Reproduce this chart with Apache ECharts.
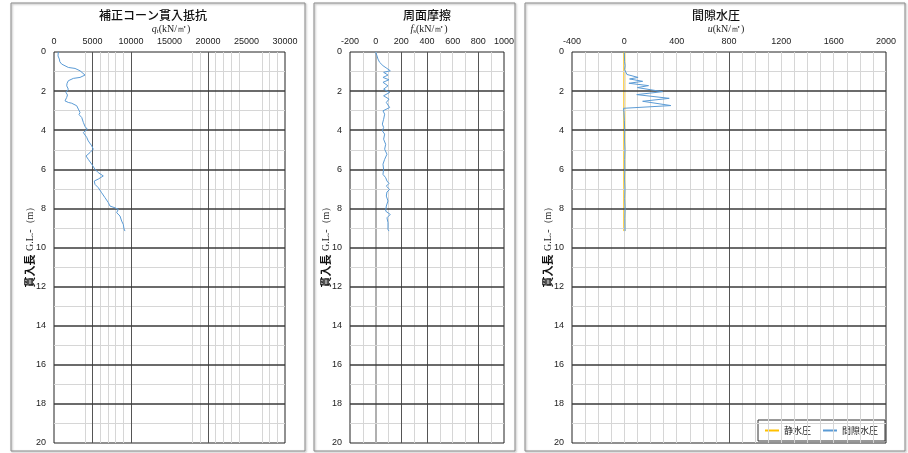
<!DOCTYPE html>
<html><head><meta charset="utf-8">
<script src="https://cdn.jsdelivr.net/npm/echarts@6/dist/echarts.min.js"></script>
<style>html,body{margin:0;padding:0;background:#fff}#c{width:908px;height:453px}</style>
</head><body><div id="c"></div>
<script>
// ---- data ----
const qtDepth = [0,0.2,0.36,0.5,0.62,0.79,0.84,0.96,1.18,1.3,1.35,1.47,1.6,1.73,1.9,2.07,2.2,2.32,2.5,2.58,2.62,2.67,2.75,2.92,3.09,3.2,3.35,3.6,3.81,3.95,4.12,4.37,4.55,4.8,4.97,5.14,5.32,5.49,5.74,6.0,6.17,6.34,6.5,6.6,6.77,6.94,7.2,7.45,7.7,7.88,7.97,8.05,8.22,8.39,8.65,8.82,9.05,9.16];
const qtValue = [560,520,690,760,1000,1860,2730,3380,4030,3380,2510,1860,1700,1650,1860,1560,1750,1650,1430,1860,2300,2510,2950,3160,3380,3250,3600,3810,4030,4320,3810,4250,4450,4900,5100,4680,4160,4450,4900,5320,5750,6400,5750,5230,5320,5750,6190,6620,7050,7270,7920,8350,8140,8570,8790,9000,9090,9220];
const fsDepth = [0,0.19,0.36,0.53,0.7,0.84,0.96,1.04,1.18,1.3,1.42,1.55,1.73,1.9,2.07,2.24,2.41,2.58,2.84,3.01,3.18,3.44,3.69,3.86,4.03,4.2,4.46,4.72,4.97,5.23,5.49,5.74,6.0,6.26,6.43,6.6,6.72,6.86,7.03,7.16,7.37,7.62,7.88,8.14,8.31,8.48,8.73,9.08,9.16];
const fsValue = [0,10,18,31,57,88,114,62,96,57,104,57,96,62,109,62,104,83,109,57,70,62,52,62,52,70,62,78,70,88,70,57,62,57,78,88,104,83,109,88,83,96,83,78,114,88,96,96,104];
const uDepth = [0,0.5,0.7,0.8,0.9,1.0,1.15,1.3,1.38,1.5,1.6,1.72,1.82,2.03,2.18,2.37,2.52,2.74,2.88,2.96,3.1,3.5,4.0,4.5,5.0,5.5,6.0,6.5,7.0,7.5,8.0,8.5,9.0,9.16];
const uValue = [0,2,6,20,2,5,20,105,40,140,35,185,100,292,95,343,140,356,-6,-10,-3,0,3,2,5,3,4,2,5,3,6,4,5,5];
const u0Depth = [0,9.16];
const u0Value = [0,0];
// grid line values
const depthMinor = [1,3,5,7,9,11,13,15,17,19];
const depthMajor = [2,4,6,8,10,12,14,16,18];
const qtLight = [4000,6000,7000,8000,9000,18000,19000,21000,22000,23000,24000,27000,28000,29000];
const qtDark = [5000,10000,20000];
const fsLight = [-100,100,300,500,600,700,900];
const fsMid = [0];
const fsDark = [200,400,800];
const uLight = [-300,-200,-100,0,100,200,300,400,500,600,700,900,1000,1100,1200,1300,1400,1500,1600,1700,1800,1900];
const uDark = [800];

const zip = (xs, ys) => xs.map((x, i) => [x, ys[i]]);
const LIGHT = '#d6d6d6', MID = '#b0b0b0', DARK = '#3a3a3a';
const FONT = '"Liberation Sans", Arial, sans-serif';
const JP = '"Noto Sans CJK JP", sans-serif';

function gridLines(idx, light, mid, dark) {
  const d = [];
  light.forEach(v => d.push({xAxis: v, lineStyle: {color: LIGHT, width: 1, type: 'solid'}}));
  mid.forEach(v => d.push({xAxis: v, lineStyle: {color: MID, width: 2, type: 'solid'}}));
  depthMinor.forEach(v => d.push({yAxis: v, lineStyle: {color: LIGHT, width: 1, type: 'solid'}}));
  dark.forEach(v => d.push({xAxis: v, lineStyle: {color: '#555', width: 1, type: 'solid'}}));
  depthMajor.forEach(v => d.push({yAxis: v, lineStyle: {color: DARK, width: 1.5, type: 'solid'}}));
  return {
    type: 'line', xAxisIndex: idx, yAxisIndex: idx, data: [], silent: true, z: 1,
    symbol: 'none', lineStyle: {opacity: 0},
    markLine: {symbol: ['none', 'none'], silent: true, animation: false, label: {show: false}, emphasis: {disabled: true}, data: d}
  };
}

const grids = [
  {left: 54, top: 52, width: 231, height: 391},
  {left: 350, top: 52, width: 154, height: 391},
  {left: 572, top: 52, width: 314, height: 391}
].map(g => Object.assign(g, {show: true, borderColor: '#222', borderWidth: 1, backgroundColor: '#fff', containLabel: false}));

function xAx(idx, min, max, interval) {
  return {
    type: 'value', gridIndex: idx, position: 'top', min, max, interval,
    axisLine: {show: false}, axisTick: {show: false}, splitLine: {show: false},
    axisLabel: {fontSize: 9, color: '#222', margin: 6, fontFamily: FONT, formatter: v => String(v)}
  };
}
function yAx(idx) {
  return {
    type: 'value', gridIndex: idx, inverse: true, min: 0, max: 20, interval: 2,
    axisLine: {show: false}, axisTick: {show: false}, splitLine: {show: false},
    axisLabel: {fontSize: 9, color: '#222', margin: 8, fontFamily: FONT},
    name: '{a|貫入長} {b|G.L.-（m）}', nameLocation: 'middle', nameRotate: 90, nameGap: 18,
    nameMoveOverlap: false,
    nameTextStyle: {rich: {
      a: {fontSize: 11, fontWeight: 'bold', fontFamily: JP, color: '#111', padding: [0, 0, 0, 6]},
      b: {fontSize: 10, fontFamily: '"Liberation Serif", serif', color: '#222'}
    }}
  };
}

const BLUE = '#5b9bd5';
const chart = echarts.init(document.getElementById('c'), null, {renderer: 'canvas'});
chart.setOption({
  animation: false,
  backgroundColor: '#fff',
  grid: grids,
  xAxis: [xAx(0, 0, 30000, 5000), xAx(1, -200, 1000, 200), xAx(2, -400, 2000, 400)],
  yAxis: [yAx(0), yAx(1), yAx(2)],
  legend: {
    data: ['静水圧', '間隙水圧'], left: 758, top: 420, orient: 'horizontal',
    icon: 'rect', itemWidth: 14, itemHeight: 2, itemGap: 12,
    padding: [6, 7, 6, 7], borderColor: '#333', borderWidth: 1, backgroundColor: '#fff',
    textStyle: {fontSize: 9, fontFamily: JP, color: '#222'}
  },
  graphic: [
    {type: 'rect', shape: {x: 11, y: 3, width: 294, height: 448}, style: {fill: 'none', stroke: '#8a8a8a', lineWidth: 1, shadowColor: 'rgba(0,0,0,0.35)', shadowOffsetX: 1, shadowOffsetY: 1, shadowBlur: 2}, z: -10},
    {type: 'rect', shape: {x: 314, y: 3, width: 201, height: 448}, style: {fill: 'none', stroke: '#8a8a8a', lineWidth: 1, shadowColor: 'rgba(0,0,0,0.35)', shadowOffsetX: 1, shadowOffsetY: 1, shadowBlur: 2}, z: -10},
    {type: 'rect', shape: {x: 525, y: 3, width: 380, height: 448}, style: {fill: 'none', stroke: '#8a8a8a', lineWidth: 1, shadowColor: 'rgba(0,0,0,0.35)', shadowOffsetX: 1, shadowOffsetY: 1, shadowBlur: 2}, z: -10},
    {type: 'text', x: 153, y: 15, style: {text: '補正コーン貫入抵抗', font: '500 12px "Noto Sans CJK JP"', fill: '#111', align: 'center', verticalAlign: 'middle'}},
    {type: 'text', x: 171, y: 29, style: {text: '{i|q}{s|t}{n|(kN/㎡)}', align: 'center', verticalAlign: 'middle', rich: {
      i: {fontSize: 10, fontStyle: 'italic', fontFamily: '"Liberation Serif", serif', fill: '#222'},
      s: {fontSize: 7, fontFamily: '"Liberation Serif", serif', fill: '#222', padding: [5, 0, 0, 0]},
      n: {fontSize: 10, fontFamily: '"Liberation Serif", serif', fill: '#222'}}}},
    {type: 'text', x: 427, y: 15, style: {text: '周面摩擦', font: '500 12px "Noto Sans CJK JP"', fill: '#111', align: 'center', verticalAlign: 'middle'}},
    {type: 'text', x: 429, y: 29, style: {text: '{i|f}{s|s}{n|(kN/㎡)}', align: 'center', verticalAlign: 'middle', rich: {
      i: {fontSize: 10, fontStyle: 'italic', fontFamily: '"Liberation Serif", serif', fill: '#222'},
      s: {fontSize: 7, fontFamily: '"Liberation Serif", serif', fill: '#222', padding: [5, 0, 0, 0]},
      n: {fontSize: 10, fontFamily: '"Liberation Serif", serif', fill: '#222'}}}},
    {type: 'text', x: 716, y: 15, style: {text: '間隙水圧', font: '500 12px "Noto Sans CJK JP"', fill: '#111', align: 'center', verticalAlign: 'middle'}},
    {type: 'text', x: 726, y: 29, style: {text: '{i|u}{n|(kN/㎡)}', align: 'center', verticalAlign: 'middle', rich: {
      i: {fontSize: 10, fontStyle: 'italic', fontFamily: '"Liberation Serif", serif', fill: '#222'},
      n: {fontSize: 10, fontFamily: '"Liberation Serif", serif', fill: '#222'}}}}
  ],
  series: [
    gridLines(0, qtLight, [], qtDark),
    gridLines(1, fsLight, fsMid, fsDark),
    gridLines(2, uLight, [], uDark),
    {name: '補正コーン貫入抵抗', type: 'line', xAxisIndex: 0, yAxisIndex: 0, data: zip(qtValue, qtDepth), symbol: 'none', z: 5, lineStyle: {color: BLUE, width: 1}, itemStyle: {color: BLUE}},
    {name: '周面摩擦', type: 'line', xAxisIndex: 1, yAxisIndex: 1, data: zip(fsValue, fsDepth), symbol: 'none', z: 5, lineStyle: {color: BLUE, width: 1}, itemStyle: {color: BLUE}},
    {name: '静水圧', type: 'line', xAxisIndex: 2, yAxisIndex: 2, data: zip(u0Value, u0Depth), symbol: 'none', z: 4, lineStyle: {color: '#ffc000', width: 2}, itemStyle: {color: '#ffc000'}},
    {name: '間隙水圧', type: 'line', xAxisIndex: 2, yAxisIndex: 2, data: zip(uValue, uDepth), symbol: 'none', z: 5, lineStyle: {color: BLUE, width: 1}, itemStyle: {color: BLUE}}
  ]
});
</script></body></html>
